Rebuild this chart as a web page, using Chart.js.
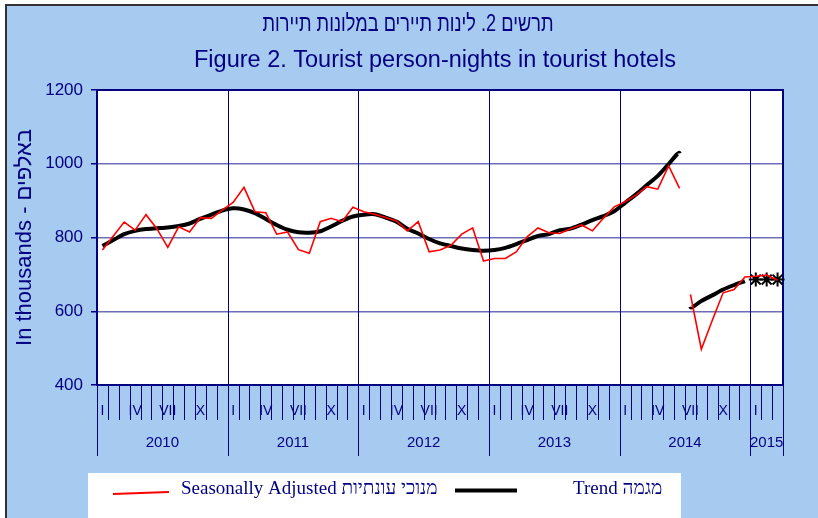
<!DOCTYPE html>
<html>
<head>
<meta charset="utf-8">
<script src="https://cdn.jsdelivr.net/npm/chart.js@4.4.1/dist/chart.umd.min.js"></script>
<style>
  html, body { margin: 0; padding: 0; background: #fff; }
  #wrap { width: 818px; height: 518px; }
</style>
</head>
<body>
<div id="wrap"><canvas id="myChart" width="818" height="518"></canvas></div>
<script>
// data
var years = ['2010', '2011', '2012', '2013', '2014', '2015'];
var monthLabels = ['I', '', '', 'IV', '', '', 'VII', '', '', 'X', '', ''];
var monthCount = 63; // Jan 2010 - Mar 2015

// seasonally adjusted (thousands)
var seasonallyAdjusted = [
  766, 804, 842, 820, 862, 824, 773, 829, 815, 854, 852, 874,
  895, 936, 870, 867, 809, 815, 767, 757, 843, 852, 843, 882,
  870, 863, 854, 845, 818, 843, 761, 766, 779, 809, 826, 736,
  743, 743, 761, 802, 826, 813, 811, 824, 834, 818, 852, 883,
  897, 915, 938, 931, 994, 933, 646, 497, 575, 650, 659, 693,
  695, 698, 684
];
// trend (thousands)
var trend = [
  777, 793, 809, 818, 823, 825, 827, 831, 838, 851, 862, 873,
  879, 876, 866, 850, 834, 821, 814, 813, 817, 830, 845, 857,
  862, 863, 854, 843, 824, 811, 796, 784, 777, 770, 766, 764,
  766, 772, 782, 793, 804, 809, 820, 824, 835, 847, 858, 871,
  894, 917, 942, 967, 999, 1028, 612, 628, 643, 659, 671, 682
];
// trend estimates for the last months (shown as markers)
var trendEstimate = [686, 686, 686];
var seriesBreak = 53; // no line between Jun and Jul 2014

var yTicks = [400, 600, 800, 1000, 1200];

var titleHe = 'תרשים 2. לינות תיירים במלונות תיירות';
var titleEn = 'Figure 2. Tourist person-nights in tourist hotels';

var navy = '#000080';
var bgBlue = '#a6caf0';
var sans = '"Liberation Sans", Arial, sans-serif';

// build labels / padded series
var labels = [];
for (var i = 0; i < monthCount; i++) {
  labels.push(years[Math.floor(i / 12)] + '-' + (i % 12 + 1));
}
var estimateData = [];
for (var i = 0; i < monthCount; i++) {
  var k = i - trend.length;
  estimateData.push(k >= 0 ? trendEstimate[k] : null);
}

function breakSegment(ctx) {
  return ctx.p0DataIndex === seriesBreak ? 'rgba(0,0,0,0)' : undefined;
}

var decor = {
  id: 'decor',
  beforeDraw: function (chart) {
    var c = chart.ctx, a = chart.chartArea;
    c.save();
    c.fillStyle = '#fff';
    c.fillRect(0, 0, chart.width, chart.height);
    c.fillStyle = bgBlue;
    c.fillRect(6, 5, chart.width, chart.height);
    c.strokeStyle = '#333';
    c.lineWidth = 2;
    c.beginPath();
    c.moveTo(6, chart.height); c.lineTo(6, 5); c.lineTo(chart.width, 5);
    c.stroke();
    c.fillStyle = '#fff';
    c.fillRect(a.left, a.top, a.right - a.left, a.bottom - a.top);
    // titles
    c.fillStyle = navy;
    c.textAlign = 'center';
    c.textBaseline = 'middle';
    c.font = '23px ' + sans;
    c.fillText(titleHe, 408, 25, 291);
    c.font = '23.5px ' + sans;
    c.fillText(titleEn, 435, 61);
    c.restore();
  },
  beforeDatasetsDraw: function (chart) {
    var c = chart.ctx, a = chart.chartArea, x = chart.scales.x;
    var step = x.getPixelForValue(1) - x.getPixelForValue(0);
    c.save();
    c.strokeStyle = navy;
    c.lineWidth = 1;
    for (var i = 0; i <= monthCount; i++) {
      var px = Math.round(i < monthCount ? x.getPixelForValue(i) - step / 2 : x.getPixelForValue(monthCount - 1) + step / 2) + 0.5;
      var yearEdge = i % 12 === 0 || i === monthCount;
      c.beginPath();
      c.moveTo(px, yearEdge && i > 0 && i < monthCount ? a.top : a.bottom);
      c.lineTo(px, a.bottom + (yearEdge ? 71 : 35));
      c.stroke();
    }
    // year labels
    c.fillStyle = navy;
    c.font = '15px ' + sans;
    c.textAlign = 'center';
    c.textBaseline = 'middle';
    for (var y = 0; y < years.length; y++) {
      var first = y * 12, last = Math.min(first + 11, monthCount - 1);
      var cx = (x.getPixelForValue(first) + x.getPixelForValue(last)) / 2;
      c.fillText(years[y], cx, a.bottom + 58);
    }
    // plot frame
    c.lineWidth = 2;
    c.strokeRect(a.left, a.top, a.right - a.left, a.bottom - a.top);
    c.restore();
  },
  afterDraw: function (chart) {
    var c = chart.ctx, ds = chart.data.datasets;
    c.save();
    c.fillStyle = '#fff';
    c.fillRect(88, 473, 593, 50);
    c.lineCap = 'butt';
    c.strokeStyle = ds[0].borderColor;
    c.lineWidth = 2;
    c.beginPath(); c.moveTo(113, 494); c.lineTo(169, 492); c.stroke();
    c.strokeStyle = ds[1].borderColor;
    c.lineWidth = 4;
    c.beginPath(); c.moveTo(455, 490.5); c.lineTo(517, 490.5); c.stroke();
    c.fillStyle = navy;
    c.font = '19px "Liberation Serif", "Times New Roman", serif';
    c.textAlign = 'left';
    c.textBaseline = 'middle';
    c.fillText(ds[0].label, 181, 489);
    c.fillText(ds[1].label, 573, 489);
    c.restore();
  }
};

var ctx = document.getElementById('myChart').getContext('2d');
var chart = new Chart(ctx, {
  type: 'line',
  data: {
    labels: labels,
    datasets: [{
      label: 'Seasonally Adjusted מנוכי עונתיות',
      data: seasonallyAdjusted,
      borderColor: '#ff0000',
      borderWidth: 1.6,
      pointRadius: 0,
      tension: 0,
      segment: { borderColor: breakSegment }
    }, {
      label: 'Trend מגמה',
      data: trend,
      borderColor: '#000000',
      borderWidth: 4,
      pointRadius: 0,
      tension: 0.25,
      segment: { borderColor: breakSegment }
    }, {
      label: 'trend estimate',
      data: estimateData,
      showLine: false,
      pointStyle: 'star',
      pointRadius: 7,
      borderColor: '#000000',
      borderWidth: 2
    }]
  },
  plugins: [decor],
  options: {
    responsive: false,
    animation: false,
    events: [],
    layout: { padding: { left: 0, right: 35, top: 90, bottom: 0 } },
    plugins: {
      legend: { display: false },
      tooltip: { enabled: false },
      title: { display: false }
    },
    scales: {
      x: {
        offset: true,
        grid: { display: false },
        border: { display: false },
        ticks: {
          autoSkip: false,
          maxRotation: 0,
          color: navy,
          font: { family: sans, size: 14 },
          padding: 10,
          callback: function (v, i) { return monthLabels[i % 12]; }
        },
        afterFit: function (s) { s.height = 133; }
      },
      y: {
        min: yTicks[0],
        max: yTicks[yTicks.length - 1],
        afterBuildTicks: function (s) { s.ticks = yTicks.map(function (v) { return { value: v }; }); },
        grid: {
          color: function (c) { return (c.tick && (c.tick.value === 400 || c.tick.value === 1200)) ? navy : '#6e6eb6'; },
          lineWidth: 1.5,
          tickLength: 6,
          tickColor: navy
        },
        border: { color: navy, width: 2 },
        ticks: {
          color: navy,
          padding: 8,
          font: { family: sans, size: 17 },
          callback: function (v) { return String(v); }
        },
        title: {
          display: true,
          text: 'In thousands - באלפים',
          color: navy,
          font: { family: sans, size: 22 },
          padding: { top: 12, bottom: 0 }
        },
        afterFit: function (s) { s.width = 97; }
      }
    }
  }
});
</script>
</body>
</html>
